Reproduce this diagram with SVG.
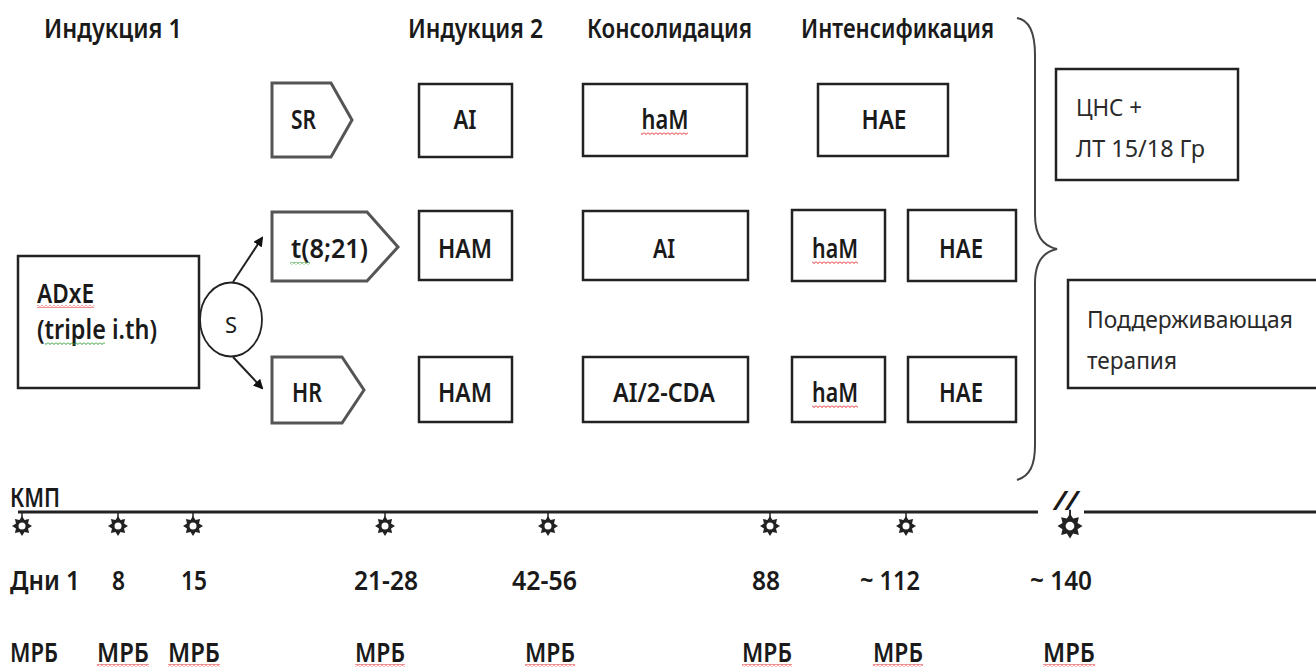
<svg xmlns="http://www.w3.org/2000/svg" width="1316" height="672" viewBox="0 0 1316 672">
<style>
text{font-family:"Noto Sans","Open Sans","DejaVu Sans",sans-serif;fill:#1a1a1a}
.t{font-size:27px;font-weight:600}
.m{text-anchor:middle}
.l{font-size:24px;font-weight:400;fill:#2a2a2a}
.box{fill:#fff;stroke:#222;stroke-width:2.5}
.pent{fill:#fff;stroke:#555;stroke-width:3}
.ln{fill:none;stroke:#222;stroke-width:2}
.br{fill:none;stroke:#444;stroke-width:2}
.tl{stroke:#222;stroke-width:3}
</style>
<defs>
<marker id="ah" markerWidth="10" markerHeight="10" refX="8" refY="5" orient="auto" markerUnits="userSpaceOnUse" viewBox="0 0 10 10">
<path d="M0,0 L10,5 L0,10 Z" fill="#111"/>
</marker>
<pattern id="rw" patternUnits="userSpaceOnUse" width="4" height="3">
<path d="M0,0.5 L2,2.5 L4,0.5" fill="none" stroke="#e02020" stroke-width="1"/>
</pattern>
<pattern id="gw" patternUnits="userSpaceOnUse" width="4" height="3">
<path d="M0,0.5 L2,2.5 L4,0.5" fill="none" stroke="#2a9a2a" stroke-width="1"/>
</pattern>
<g id="star">
<line x1="0" y1="-13" x2="0" y2="-8" stroke="#222" stroke-width="1.5"/>
<polygon points="0,-10 2.5,-6 7.1,-7.1 6,-2.5 10,0 6,2.5 7.1,7.1 2.5,6 0,10 -2.5,6 -7.1,7.1 -6,2.5 -10,0 -6,-2.5 -7.1,-7.1 -2.5,-6" fill="#222"/>
<circle r="3.5" fill="#fff"/>
</g>
</defs>
<rect width="1316" height="672" fill="#fff"/>

<g id="headers">
<text class="t" x="44" y="38" textLength="138" lengthAdjust="spacingAndGlyphs">Индукция 1</text>
<text class="t" x="408" y="38" textLength="135" lengthAdjust="spacingAndGlyphs">Индукция 2</text>
<text class="t" x="587" y="38" textLength="165" lengthAdjust="spacingAndGlyphs">Консолидация</text>
<text class="t" x="801" y="38" textLength="193" lengthAdjust="spacingAndGlyphs">Интенсификация</text>
</g>

<g id="connectors">
<line class="ln" x1="233" y1="282" x2="262" y2="238" marker-end="url(#ah)"/>
<line class="ln" x1="233" y1="357" x2="262" y2="388" marker-end="url(#ah)"/>
<path class="br" d="M1017,18 C1030,20 1035,35 1035,55 L1035,215 C1035,235 1042,246 1057,249 C1042,252 1035,263 1035,283 L1035,445 C1035,465 1030,476 1017,480"/>
</g>

<g id="node-adxe">
<rect class="box" x="18" y="256" width="181" height="132"/>
<text class="t" x="37" y="303" textLength="57" lengthAdjust="spacingAndGlyphs">ADxE</text>
<rect x="37" y="305" width="57" height="3" fill="url(#rw)"/>
<text class="t" x="37" y="339" textLength="120" lengthAdjust="spacingAndGlyphs">(triple i.th)</text>
<rect x="45" y="342" width="60" height="3" fill="url(#gw)"/>
</g>

<g id="node-s">
<ellipse cx="231" cy="319.5" rx="31" ry="37" fill="#fff" stroke="#222" stroke-width="1.8"/>
<text class="m" x="231" y="333" font-size="22" font-weight="400">S</text>
</g>

<g id="node-sr">
<polygon class="pent" points="272,83 331,83 352,120 331,157 272,157"/>
<text class="t" x="291" y="129" textLength="25" lengthAdjust="spacingAndGlyphs">SR</text>
</g>
<g id="node-t821">
<polygon class="pent" points="272,212 367,212 398,247 367,281 272,281"/>
<text class="t" x="291" y="258" textLength="77" lengthAdjust="spacingAndGlyphs">t(8;21)</text>
<rect x="290" y="262" width="20" height="3" fill="url(#gw)"/>
</g>
<g id="node-hr">
<polygon class="pent" points="272,357 342,357 364,390 342,423 272,423"/>
<text class="t" x="292" y="402" textLength="30" lengthAdjust="spacingAndGlyphs">HR</text>
</g>

<g id="node-ai-1">
<rect class="box" x="419" y="84" width="93" height="73"/>
<text class="t m" x="465" y="129" textLength="23" lengthAdjust="spacingAndGlyphs">AI</text>
</g>
<g id="node-ham-2">
<rect class="box" x="419" y="211" width="93" height="69"/>
<text class="t m" x="465" y="258" textLength="54" lengthAdjust="spacingAndGlyphs">HAM</text>
</g>
<g id="node-ham-3">
<rect class="box" x="419" y="357" width="93" height="65"/>
<text class="t m" x="465" y="402" textLength="54" lengthAdjust="spacingAndGlyphs">HAM</text>
</g>

<g id="node-ham-c1">
<rect class="box" x="583" y="84" width="164" height="72"/>
<text class="t m" x="665" y="129" textLength="47" lengthAdjust="spacingAndGlyphs">haM</text>
<rect x="641" y="132" width="47" height="3" fill="url(#rw)"/>
</g>
<g id="node-ai-c2">
<rect class="box" x="583" y="211" width="165" height="69"/>
<text class="t m" x="664" y="258" textLength="22" lengthAdjust="spacingAndGlyphs">AI</text>
</g>
<g id="node-ai2cda-c3">
<rect class="box" x="583" y="357" width="165" height="65"/>
<text class="t m" x="664" y="402" textLength="102" lengthAdjust="spacingAndGlyphs">AI/2-CDA</text>
</g>

<g id="node-hae-i1">
<rect class="box" x="818" y="84" width="130" height="72"/>
<text class="t m" x="884" y="129" textLength="45" lengthAdjust="spacingAndGlyphs">HAE</text>
</g>
<g id="node-ham-i2">
<rect class="box" x="792" y="210" width="93" height="71"/>
<text class="t m" x="835" y="258" textLength="46" lengthAdjust="spacingAndGlyphs">haM</text>
<rect x="812" y="261" width="46" height="3" fill="url(#rw)"/>
</g>
<g id="node-hae-i2">
<rect class="box" x="908" y="210" width="108" height="71"/>
<text class="t m" x="961" y="258" textLength="44" lengthAdjust="spacingAndGlyphs">HAE</text>
</g>
<g id="node-ham-i3">
<rect class="box" x="792" y="357" width="93" height="65"/>
<text class="t m" x="835" y="402" textLength="46" lengthAdjust="spacingAndGlyphs">haM</text>
<rect x="812" y="405" width="46" height="3" fill="url(#rw)"/>
</g>
<g id="node-hae-i3">
<rect class="box" x="908" y="357" width="108" height="65"/>
<text class="t m" x="961" y="402" textLength="44" lengthAdjust="spacingAndGlyphs">HAE</text>
</g>

<g id="node-cns">
<rect class="box" x="1056" y="69" width="182" height="111"/>
<text class="l" x="1076" y="116" textLength="66" lengthAdjust="spacingAndGlyphs">ЦНС +</text>
<text class="l" x="1076" y="157" textLength="129" lengthAdjust="spacingAndGlyphs">ЛТ 15/18 Гр</text>
</g>
<g id="node-maint">
<rect class="box" x="1068" y="280" width="260" height="108"/>
<text class="l" x="1087" y="328" textLength="206" lengthAdjust="spacingAndGlyphs">Поддерживающая</text>
<text class="l" x="1087" y="369" textLength="90" lengthAdjust="spacingAndGlyphs">терапия</text>
</g>

<g id="timeline">
<text class="t" x="10" y="507" textLength="50" lengthAdjust="spacingAndGlyphs">КМП</text>
<line class="tl" x1="18" y1="512" x2="1038" y2="512"/>
<line class="tl" x1="1084" y1="512" x2="1316" y2="512"/>
<text class="t" x="1054" y="510" textLength="24" lengthAdjust="spacingAndGlyphs" font-style="italic">//</text>
<use href="#star" x="22" y="526"/>
<use href="#star" x="118" y="526"/>
<use href="#star" x="193" y="526"/>
<use href="#star" x="385" y="526"/>
<use href="#star" x="548" y="526"/>
<use href="#star" x="770" y="526"/>
<use href="#star" x="906" y="526"/>
<use href="#star" x="1070" y="526" transform="translate(1070 526) scale(1.25) translate(-1070 -526)"/>
</g>

<g id="days">
<text class="t" x="10" y="590" textLength="70" lengthAdjust="spacingAndGlyphs">Дни 1</text>
<text class="t" x="112" y="590" textLength="13" lengthAdjust="spacingAndGlyphs">8</text>
<text class="t" x="181" y="590" textLength="26" lengthAdjust="spacingAndGlyphs">15</text>
<text class="t" x="354" y="590" textLength="64" lengthAdjust="spacingAndGlyphs">21-28</text>
<text class="t" x="512" y="590" textLength="65" lengthAdjust="spacingAndGlyphs">42-56</text>
<text class="t" x="752" y="590" textLength="28" lengthAdjust="spacingAndGlyphs">88</text>
<text class="t" x="860" y="590" textLength="60" lengthAdjust="spacingAndGlyphs">~ 112</text>
<text class="t" x="1030" y="590" textLength="62" lengthAdjust="spacingAndGlyphs">~ 140</text>
</g>

<g id="mrb">
<text class="t" x="10" y="662" textLength="48" lengthAdjust="spacingAndGlyphs">МРБ</text>
<text class="t" x="97" y="662" textLength="52" lengthAdjust="spacingAndGlyphs">МРБ</text>
<rect x="97" y="664" width="52" height="3" fill="url(#rw)"/>
<text class="t" x="168" y="662" textLength="52" lengthAdjust="spacingAndGlyphs">МРБ</text>
<rect x="168" y="664" width="52" height="3" fill="url(#rw)"/>
<text class="t" x="355" y="662" textLength="50" lengthAdjust="spacingAndGlyphs">МРБ</text>
<rect x="355" y="664" width="50" height="3" fill="url(#rw)"/>
<text class="t" x="525" y="662" textLength="50" lengthAdjust="spacingAndGlyphs">МРБ</text>
<rect x="525" y="664" width="50" height="3" fill="url(#rw)"/>
<text class="t" x="742" y="662" textLength="50" lengthAdjust="spacingAndGlyphs">МРБ</text>
<rect x="742" y="664" width="50" height="3" fill="url(#rw)"/>
<text class="t" x="873" y="662" textLength="50" lengthAdjust="spacingAndGlyphs">МРБ</text>
<rect x="873" y="664" width="50" height="3" fill="url(#rw)"/>
<text class="t" x="1043" y="662" textLength="52" lengthAdjust="spacingAndGlyphs">МРБ</text>
<rect x="1043" y="664" width="52" height="3" fill="url(#rw)"/>
</g>
</svg>
